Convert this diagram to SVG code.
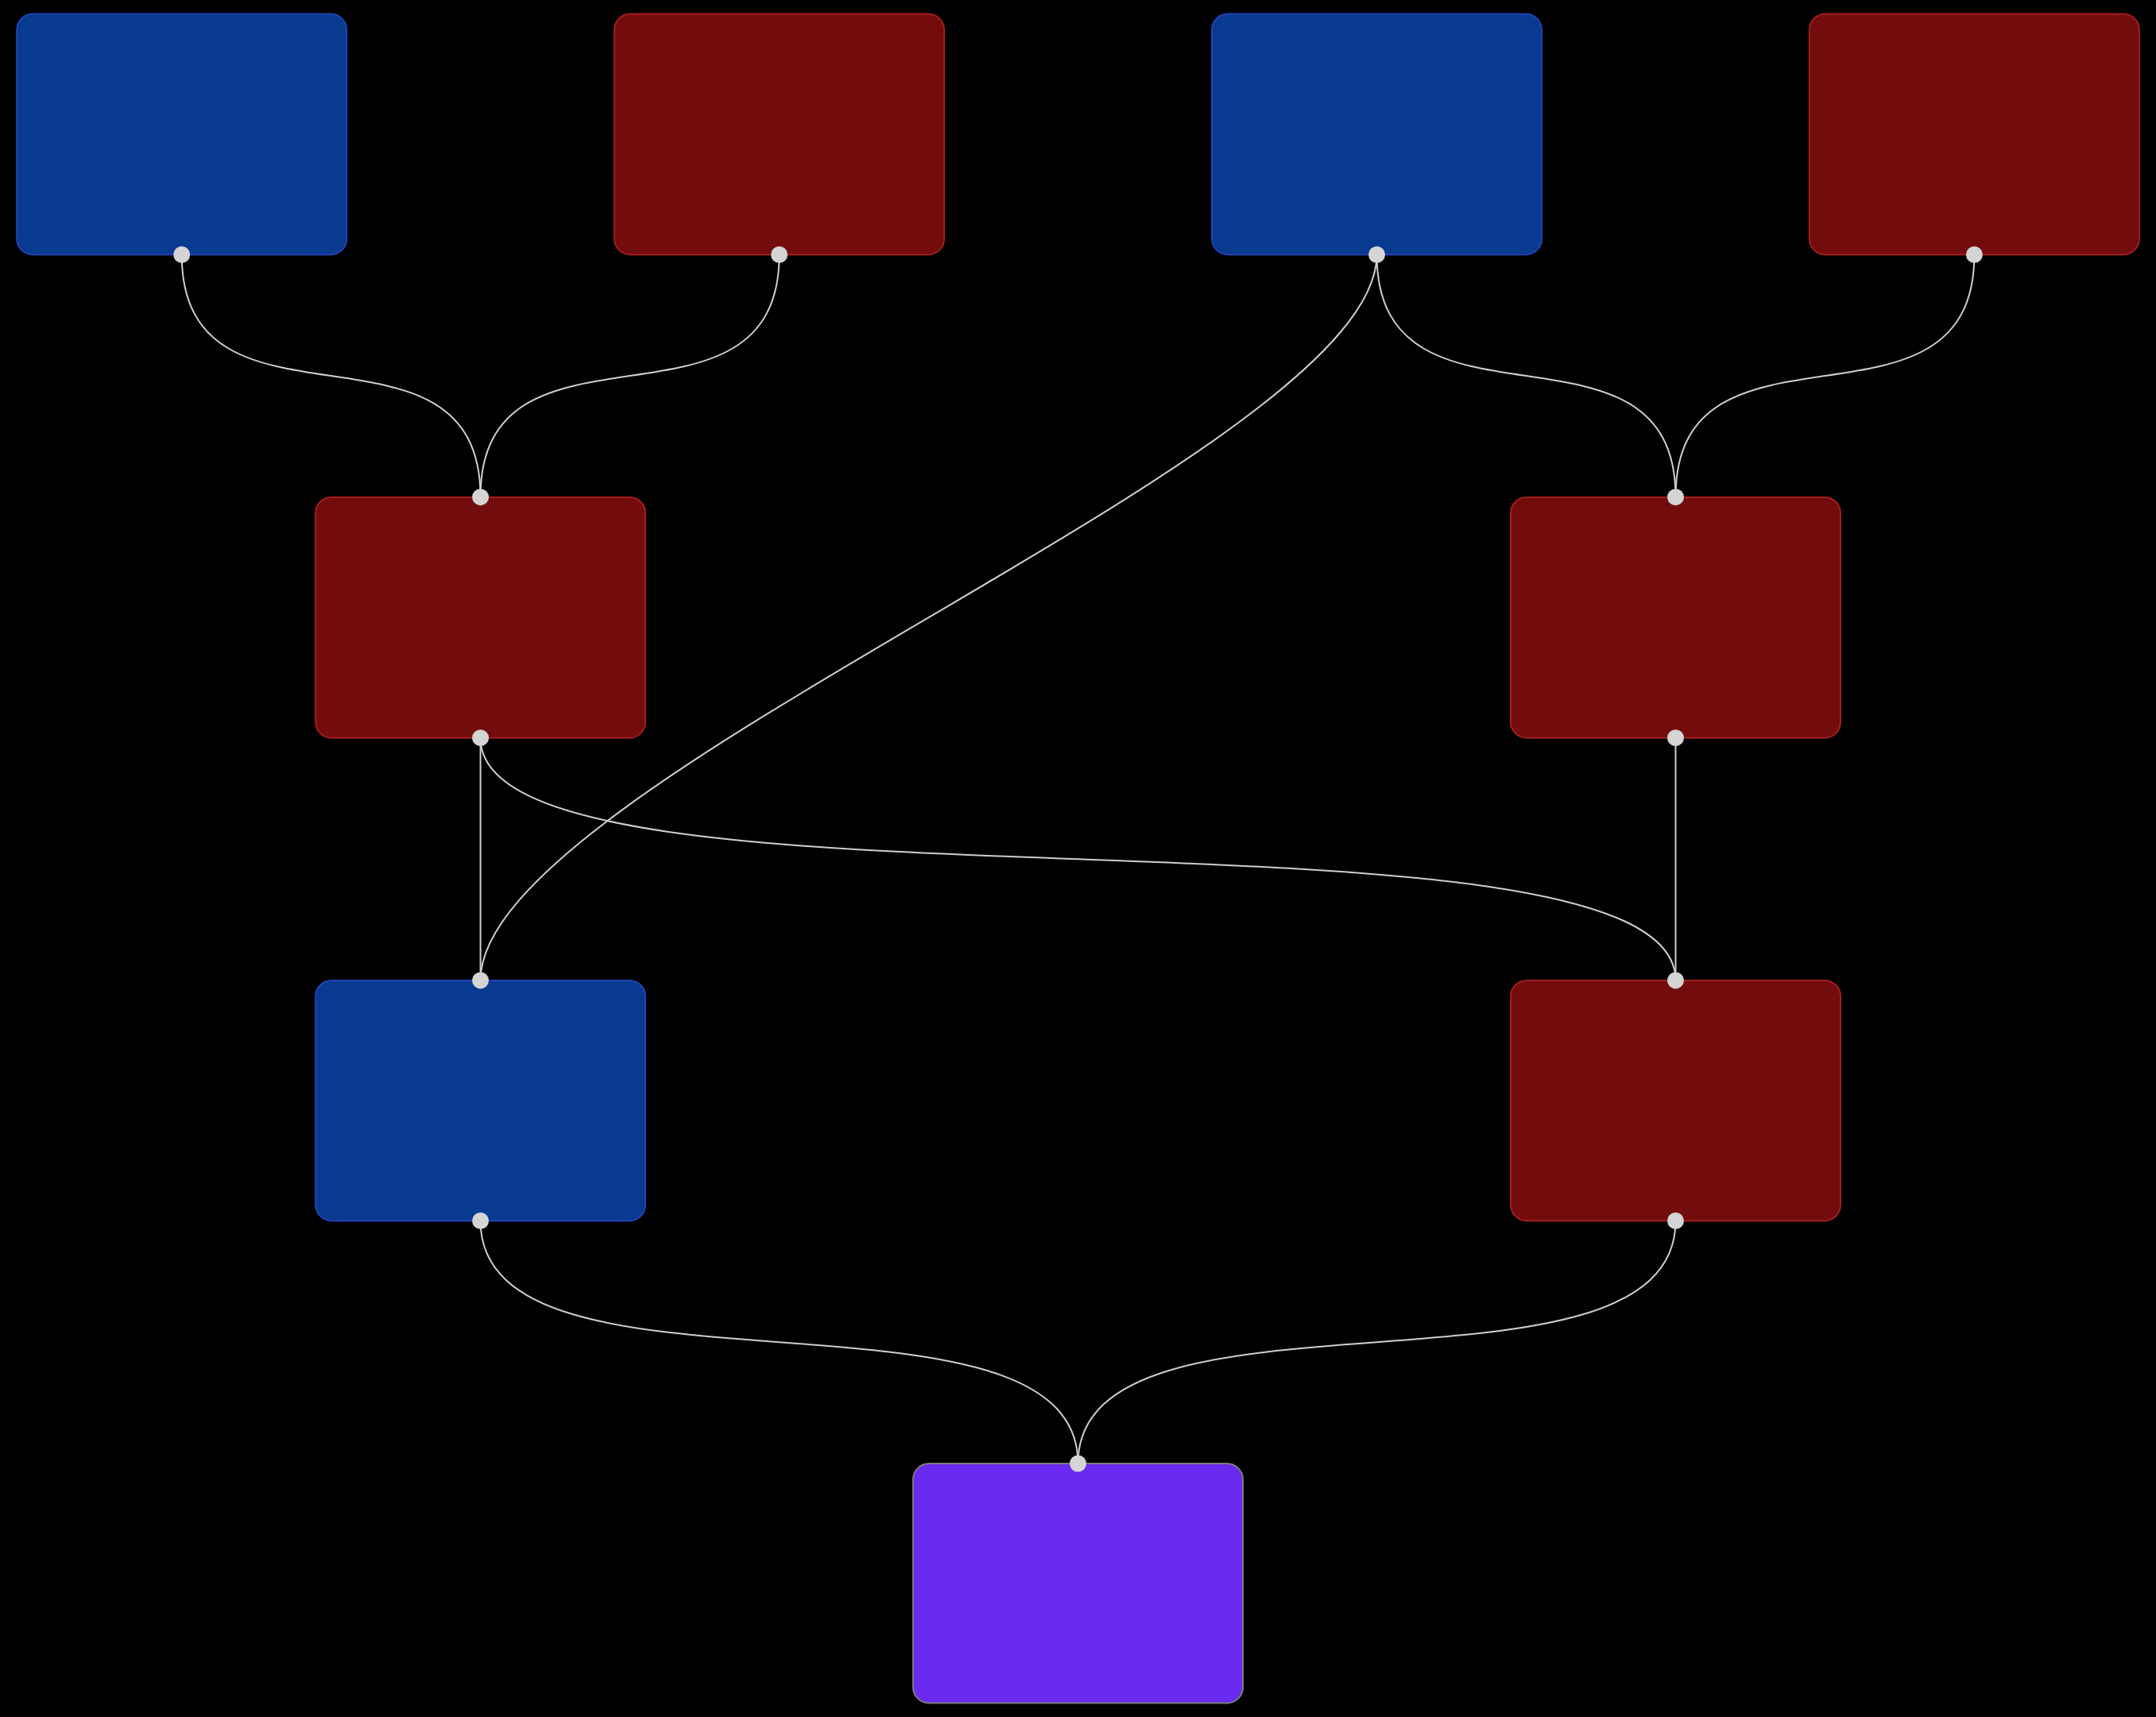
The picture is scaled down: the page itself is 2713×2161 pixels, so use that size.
<svg xmlns="http://www.w3.org/2000/svg" width="2713" height="2161" viewBox="0 0 2713 2161">
  <style>
    .edge { fill: none; stroke: #cfcfcf; stroke-width: 2; }
    .node { stroke-width: 2; }
    .blue { fill: #083a8f; stroke: #2342b5; }
    .red { fill: #730c0c; stroke: #a21e1e; }
    .purple { fill: #6a2af0; stroke: #7c7c7c; }
    .handle { fill: #d4d4d4; }
  </style>
  <rect x="0" y="0" width="2713" height="2161" fill="#000000"/>
  <g id="connectors">
    <path class="edge" d="M228.7,320.5 C228.7,570.5 604.6,375.7 604.6,625.7"/>
    <path class="edge" d="M980.6,320.5 C980.6,570.5 604.6,375.7 604.6,625.7"/>
    <path class="edge" d="M1732.5,320.5 C1732.5,570.5 604.6,983.9 604.6,1233.9"/>
    <path class="edge" d="M1732.5,320.5 C1732.5,570.5 2108.5,375.7 2108.5,625.7"/>
    <path class="edge" d="M2484.4,320.5 C2484.4,570.5 2108.5,375.7 2108.5,625.7"/>
    <path class="edge" d="M604.6,928.7 L604.6,1233.9"/>
    <path class="edge" d="M604.6,928.7 C604.6,1178.7 2108.5,983.9 2108.5,1233.9"/>
    <path class="edge" d="M2108.5,928.7 L2108.5,1233.9"/>
    <path class="edge" d="M604.6,1536.5 C604.6,1786.5 1356.5,1592 1356.5,1842"/>
    <path class="edge" d="M2108.5,1536.5 C2108.5,1786.5 1356.5,1592 1356.5,1842"/>
  </g>
  <g id="node-1">
    <rect class="node blue" x="21.2" y="17.5" width="415" height="303" rx="20"/>
    <circle class="handle" cx="228.7" cy="320.5" r="10.5"/>
  </g>
  <g id="node-2">
    <rect class="node red" x="773.1" y="17.5" width="415" height="303" rx="20"/>
    <circle class="handle" cx="980.6" cy="320.5" r="10.5"/>
  </g>
  <g id="node-3">
    <rect class="node blue" x="1525" y="17.5" width="415" height="303" rx="20"/>
    <circle class="handle" cx="1732.5" cy="320.5" r="10.5"/>
  </g>
  <g id="node-4">
    <rect class="node red" x="2276.9" y="17.5" width="415" height="303" rx="20"/>
    <circle class="handle" cx="2484.4" cy="320.5" r="10.5"/>
  </g>
  <g id="node-5">
    <rect class="node red" x="397.1" y="625.7" width="415" height="303" rx="20"/>
    <circle class="handle" cx="604.6" cy="625.7" r="10.5"/>
    <circle class="handle" cx="604.6" cy="928.7" r="10.5"/>
  </g>
  <g id="node-6">
    <rect class="node red" x="1901" y="625.7" width="415" height="303" rx="20"/>
    <circle class="handle" cx="2108.5" cy="625.7" r="10.5"/>
    <circle class="handle" cx="2108.5" cy="928.7" r="10.5"/>
  </g>
  <g id="node-7">
    <rect class="node blue" x="397.1" y="1233.9" width="415" height="302.6" rx="20"/>
    <circle class="handle" cx="604.6" cy="1233.9" r="10.5"/>
    <circle class="handle" cx="604.6" cy="1536.5" r="10.5"/>
  </g>
  <g id="node-8">
    <rect class="node red" x="1901" y="1233.9" width="415" height="302.6" rx="20"/>
    <circle class="handle" cx="2108.5" cy="1233.9" r="10.5"/>
    <circle class="handle" cx="2108.5" cy="1536.5" r="10.5"/>
  </g>
  <g id="node-9">
    <rect class="node purple" x="1149" y="1842" width="415" height="301.5" rx="20"/>
    <circle class="handle" cx="1356.5" cy="1842" r="10.5"/>
  </g>
</svg>
